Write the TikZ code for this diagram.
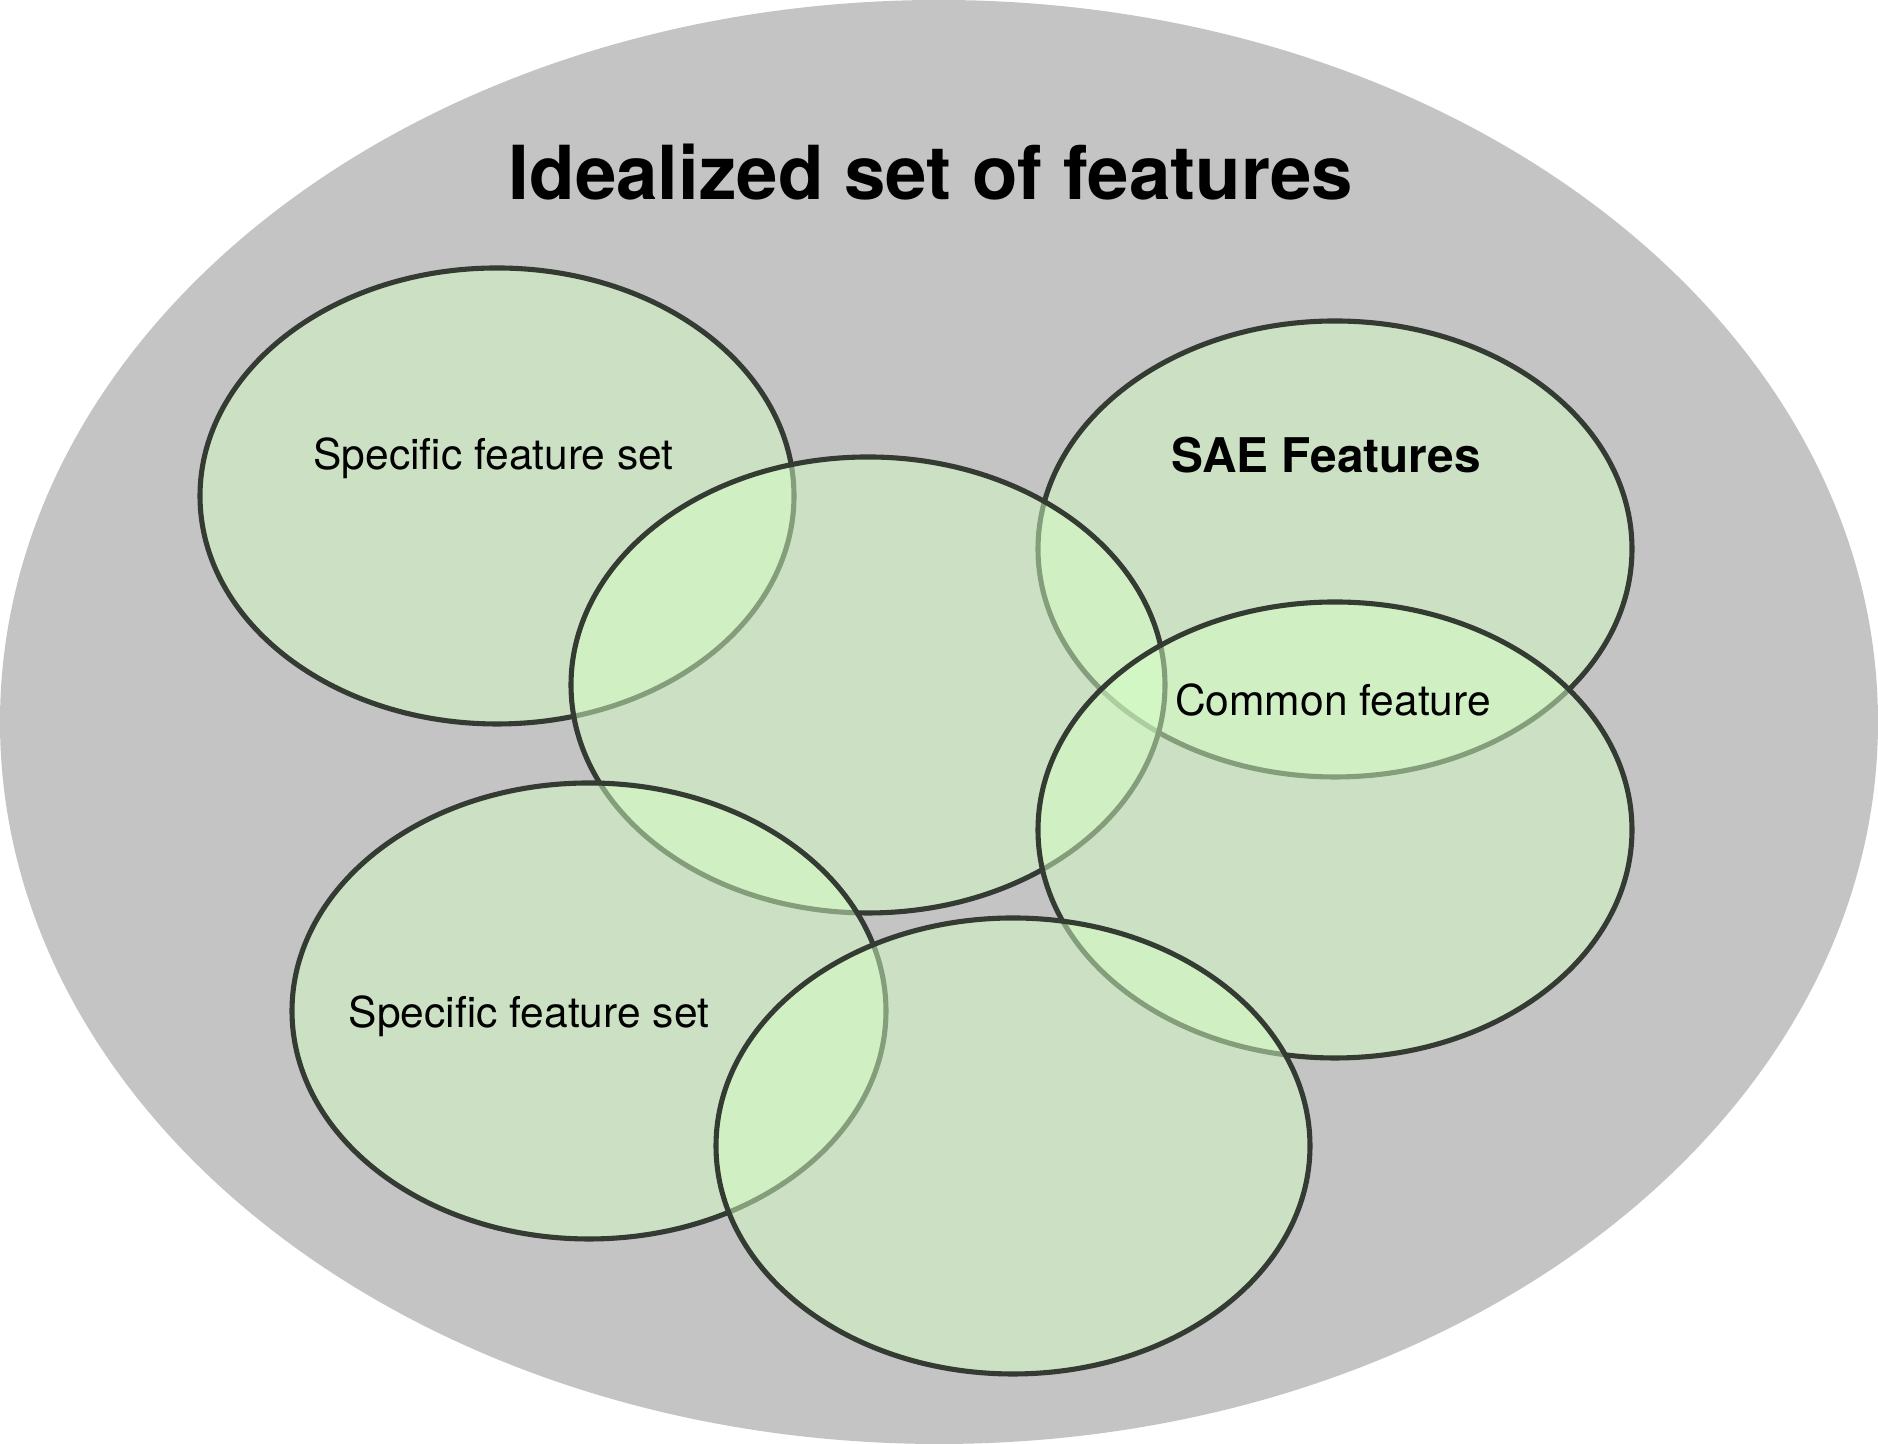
\documentclass[tikz,border=0pt]{standalone}
\usepackage{fontspec}
\setmainfont{TeX Gyre Heros}
\usetikzlibrary{positioning}
\definecolor{Ground}{HTML}{C4C4C4}
\definecolor{Leaf}{HTML}{D4FFC4}
\definecolor{Rim}{HTML}{343B33}
\tikzset{
  featset/.style={fill=Leaf,fill opacity=0.5,draw=Rim,line width=1.45pt},
  lbl/.style={font=\fontsize{12.1}{14}\selectfont,anchor=base,inner sep=0pt},
}

\begin{document}
\begin{tikzpicture}[x=1cm,y=1cm,line join=round]
\useasboundingbox (0,0) rectangle (18.78,14.44);
\fill[Ground] (9.39,7.22) ellipse [x radius=9.39,y radius=7.22];
\coordinate (S1) at (4.97,9.48); \coordinate (S2) at (8.68,7.59);
\coordinate (S3) at (13.35,8.95); \coordinate (S4) at (13.35,6.14);
\coordinate (S5) at (5.89,4.33); \coordinate (S6) at (10.13,2.98);
\foreach \c in {S1,S3,S2,S4,S5,S6}
  \filldraw[featset] (\c) ellipse [x radius=2.97,y radius=2.28];
\node[anchor=base,inner sep=0pt,font=\fontsize{21.2}{24}\selectfont\bfseries] (title) at (9.31,12.44) {Idealized set of features};
\node[lbl] (spec1) at (4.935,9.74) {Specific feature set};
\node[lbl] (spec2) at (5.29,4.16) {Specific feature set};
\node[lbl,font=\fontsize{13.6}{16}\selectfont\bfseries] (sae) at (13.26,9.71) {SAE Features};
\node[lbl] (common) at (13.33,7.28) {Common feature};
\end{tikzpicture}
\end{document}
